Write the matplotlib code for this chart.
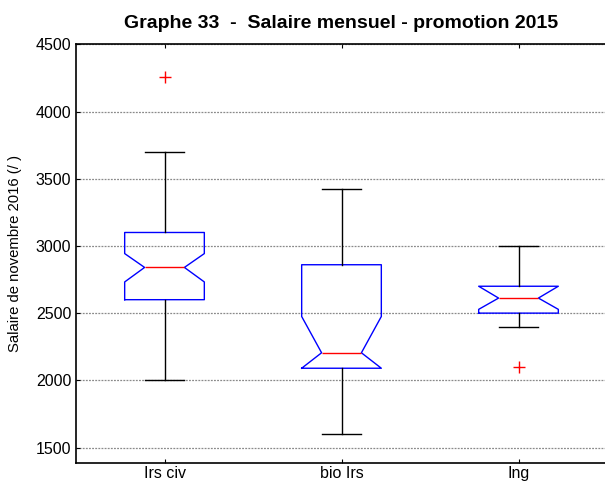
import matplotlib
matplotlib.use('Agg')
import matplotlib.pyplot as plt

plt.rcParams['font.family'] = ['Liberation Sans', 'DejaVu Sans']

# box statistics
categories = ['Irs civ', 'bio Irs', 'Ing']
whislo = [2000, 1600, 2400]
q1 = [2600, 2090, 2500]
med = [2840, 2205, 2612]
q3 = [3100, 2860, 2700]
whishi = [3700, 3425, 3000]
cilo = [2732, 2090, 2528]
cihi = [2943, 2475, 2700]
fliers = [[4255], [], [2100]]
yticks = [1500, 2000, 2500, 3000, 3500, 4000, 4500]

stats = []
for i, name in enumerate(categories):
    stats.append(dict(label=name, whislo=whislo[i], q1=q1[i], med=med[i],
                      q3=q3[i], whishi=whishi[i], cilo=cilo[i], cihi=cihi[i],
                      fliers=fliers[i]))

fig = plt.figure(figsize=(6.05, 4.84), dpi=100)
ax = fig.add_axes([76/605, 21/484, 531/605, 418.7/484])

ax.bxp(stats, positions=[1, 2, 3], widths=0.45, shownotches=True,
       boxprops=dict(color='#0000ff', linewidth=1),
       medianprops=dict(color='#ff0000', linewidth=1),
       whiskerprops=dict(color='black', linewidth=1),
       capprops=dict(color='black', linewidth=1),
       flierprops=dict(marker='+', markeredgecolor='#ff0000', markersize=8,
                       markeredgewidth=1, linestyle='none'))

ax.set_xlim(0.5, 3.5)
ax.set_ylim(1385, 4500)
ax.set_yticks(yticks)
ax.set_xticks([1, 2, 3])
ax.set_xticklabels(categories)
ax.yaxis.grid(True, linestyle=(0, (1.5, 1)), color='#8a8a8a', linewidth=0.9)
ax.set_axisbelow(True)
ax.tick_params(direction='in', length=3, labelsize=11.5, top=True, right=False)
ax.tick_params(axis='x', pad=2)
ax.spines['right'].set_visible(False)
for s in ['left', 'bottom', 'top']:
    ax.spines[s].set_linewidth(1.2)

ax.set_ylabel('Salaire de novembre 2016 (/ )', fontsize=10.7, labelpad=10)
ax.set_title('Graphe 33  -  Salaire mensuel - promotion 2015',
             fontsize=14, fontweight='bold', pad=12)

fig.savefig('out.png', dpi=100)
